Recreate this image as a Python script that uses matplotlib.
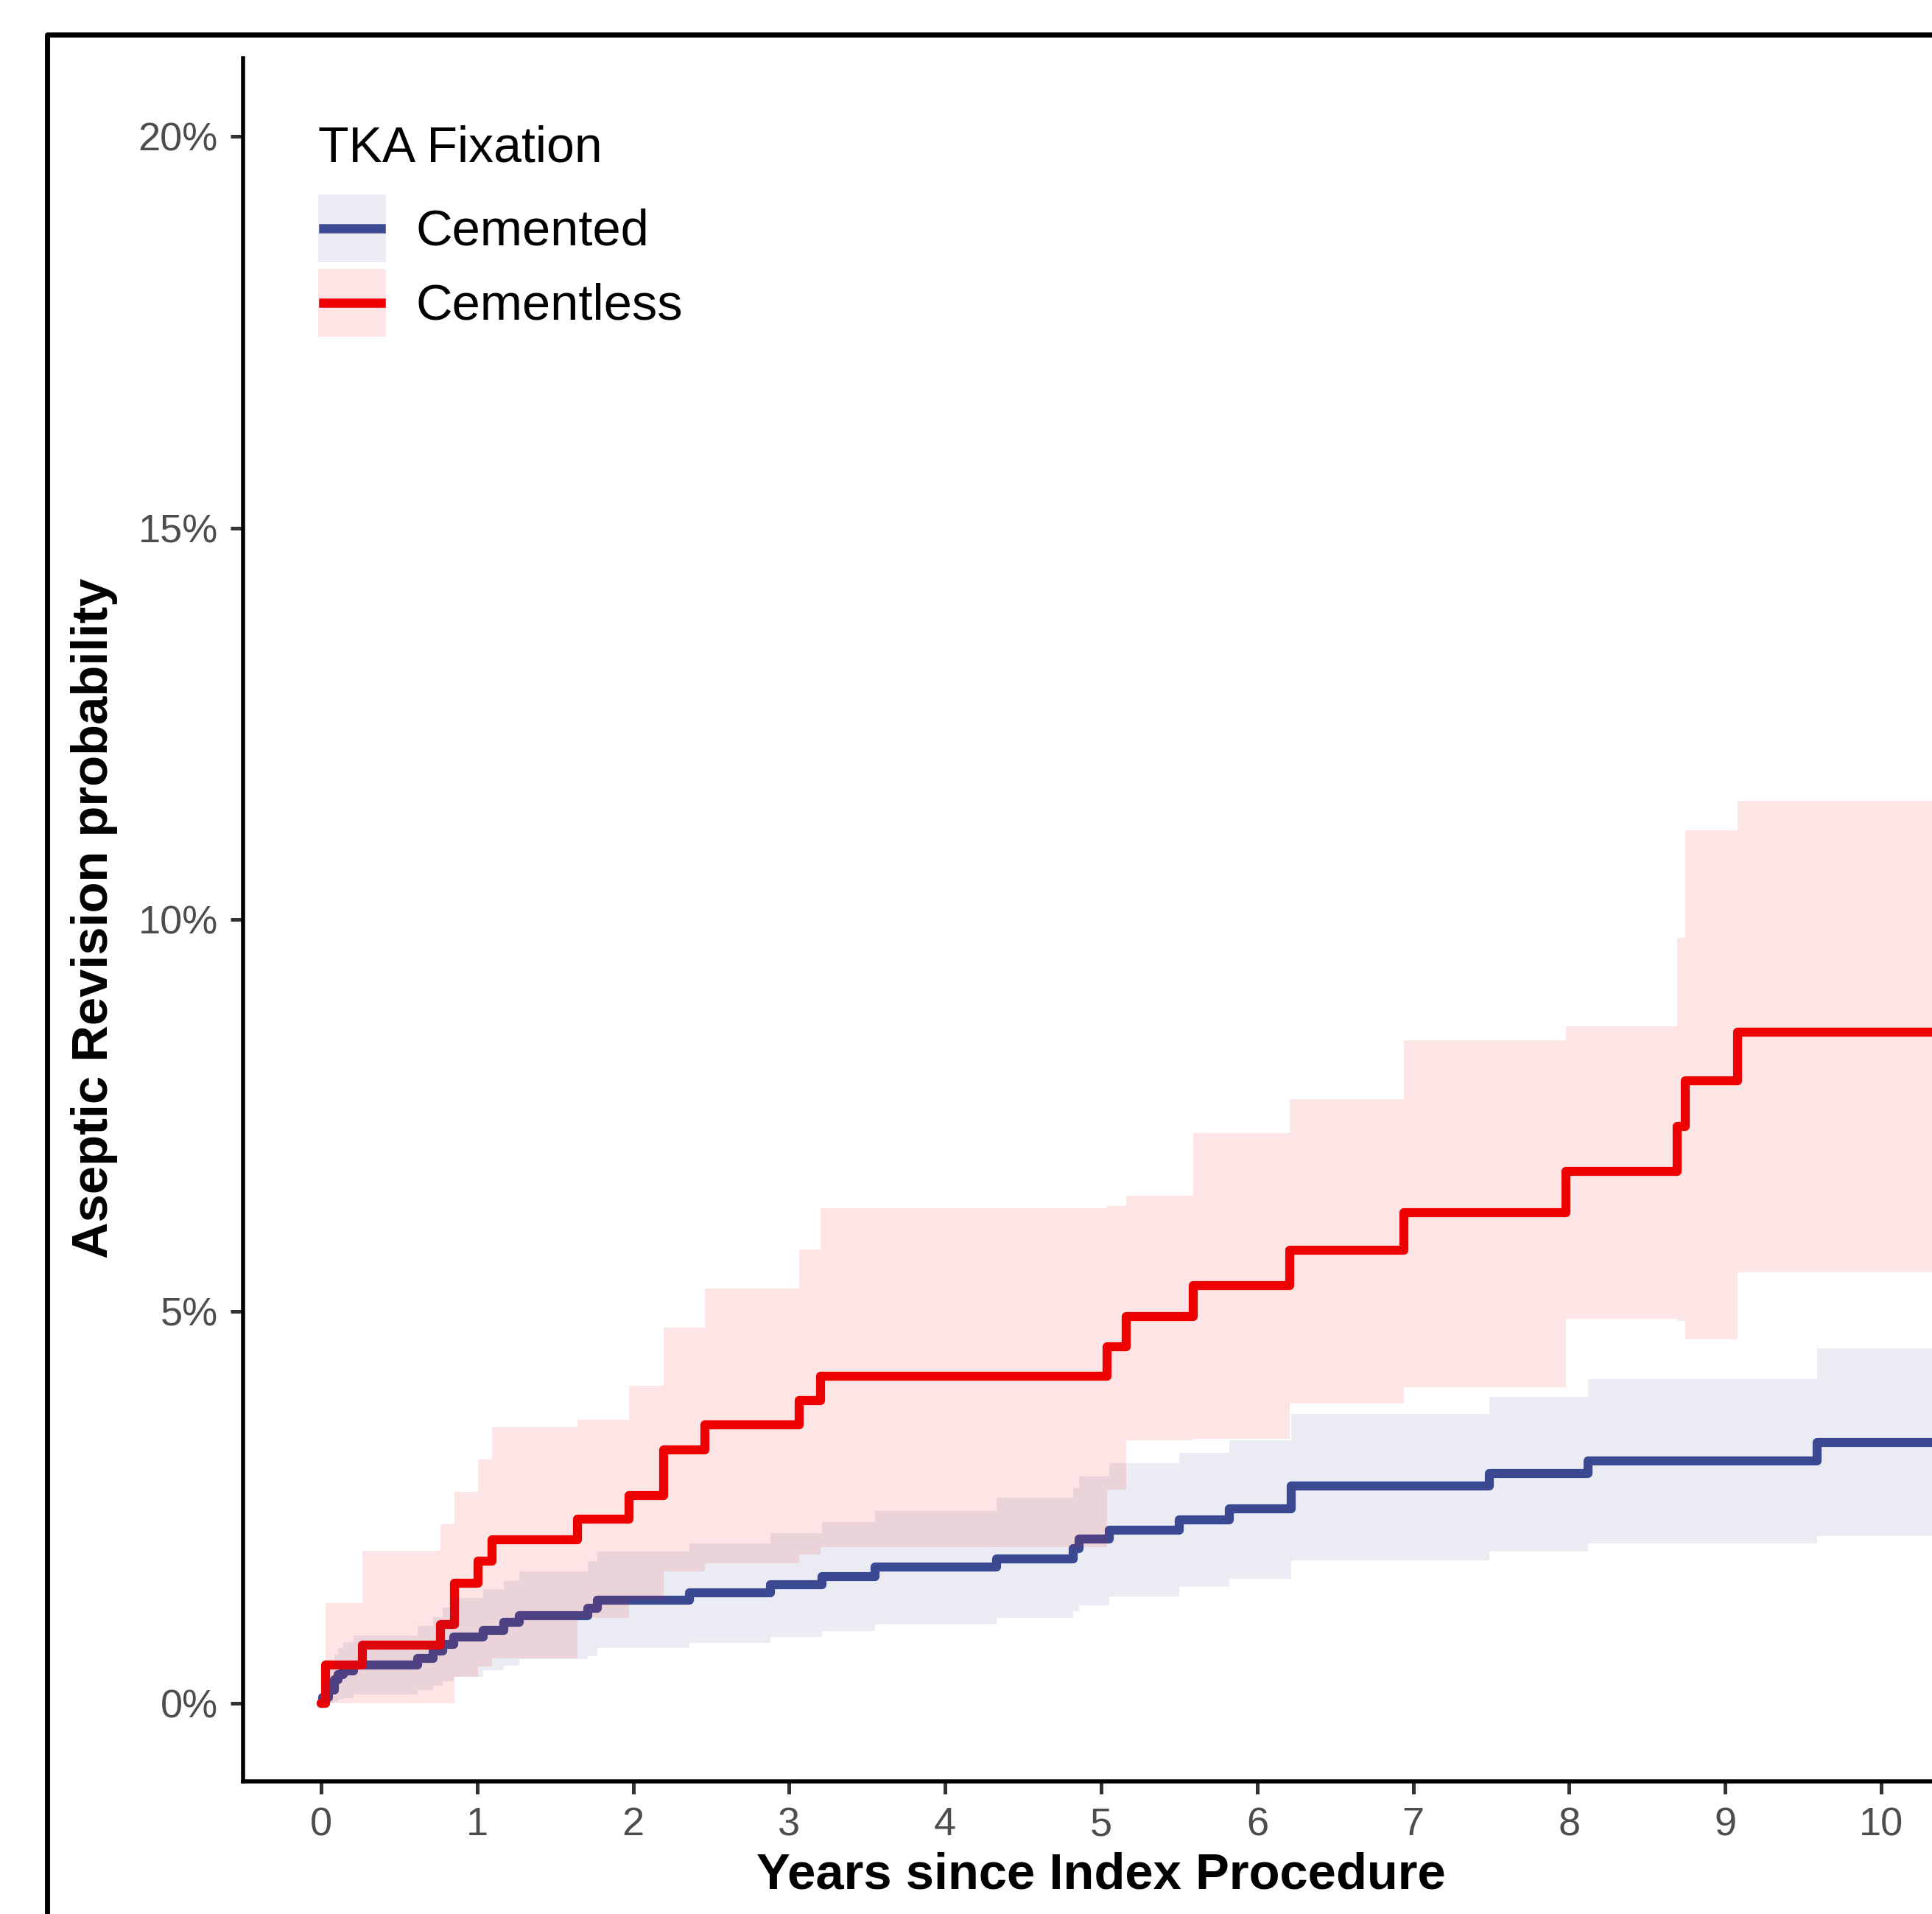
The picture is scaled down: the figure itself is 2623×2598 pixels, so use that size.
import matplotlib
matplotlib.use("Agg")
import matplotlib.pyplot as plt
from matplotlib.patches import Patch, Rectangle
from matplotlib.lines import Line2D
from matplotlib.legend_handler import HandlerLine2D
import numpy as np

plt.rcParams['font.family'] = ['Liberation Sans', 'DejaVu Sans']

# ---------------- data (cumulative incidence, %) ----------------
groups = ["Cemented", "Cementless"]
group_colors = ["#3B4992", "#EE0000"]
follow_up_end = 10.6

cemented_time = [0.0, 0.01, 0.05, 0.085, 0.11, 0.14, 0.21, 0.62, 0.72, 0.78, 0.85,
                 1.04, 1.17, 1.27, 1.71, 1.77, 2.36, 2.88, 3.21, 3.55, 4.33, 4.82,
                 4.86, 5.05, 5.50, 5.82, 6.22, 7.49, 8.12, 9.59]
cemented_est = [0.0, 0.07, 0.17, 0.30, 0.36, 0.41, 0.49, 0.57, 0.66, 0.75, 0.84,
                0.93, 1.03, 1.12, 1.21, 1.31, 1.41, 1.51, 1.61, 1.74, 1.84, 1.97,
                2.09, 2.21, 2.34, 2.48, 2.77, 2.93, 3.09, 3.33]
cemented_upper = [0.0, 0.25, 0.45, 0.62, 0.70, 0.78, 0.86, 0.98, 1.10, 1.22, 1.34,
                  1.45, 1.56, 1.68, 1.81, 1.93, 2.04, 2.17, 2.31, 2.45, 2.62, 2.74,
                  2.89, 3.06, 3.19, 3.35, 3.69, 3.91, 4.13, 4.53]
cemented_lower = [0.0, 0.0, 0.0, 0.02, 0.04, 0.06, 0.11, 0.17, 0.22, 0.28, 0.34,
                  0.42, 0.48, 0.56, 0.60, 0.70, 0.77, 0.84, 0.92, 1.00, 1.09, 1.17,
                  1.25, 1.36, 1.48, 1.59, 1.82, 1.93, 2.04, 2.13]

cementless_time = [0.0, 0.03, 0.266, 0.765, 0.854, 1.008, 1.098, 1.644, 1.973, 2.198,
                   2.462, 3.065, 3.20, 5.04, 5.16, 5.59, 6.21, 6.94, 7.98, 8.69,
                   8.745, 9.08]
cementless_est = [0.0, 0.49, 0.74, 1.00, 1.53, 1.81, 2.08, 2.35, 2.65, 3.23, 3.55,
                  3.86, 4.17, 4.55, 4.93, 5.33, 5.78, 6.26, 6.79, 7.36, 7.94, 8.56]
cementless_upper = [0.0, 1.28, 1.94, 2.28, 2.70, 3.11, 3.52, 3.62, 4.05, 4.79, 5.29,
                    5.79, 6.32, 6.34, 6.48, 7.28, 7.71, 8.46, 8.64, 9.77, 11.14, 11.52]
cementless_lower = [0.0, 0.0, 0.0, 0.0, 0.34, 0.47, 0.57, 1.09, 1.32, 1.68, 1.78,
                    1.90, 1.99, 2.72, 3.35, 3.37, 3.82, 4.03, 4.91, 4.88, 4.64, 5.50]

x_ticks = [0, 1, 2, 3, 4, 5, 6, 7, 8, 9, 10]
y_ticks = [0, 5, 10, 15, 20]
y_tick_labels = ["0%", "5%", "10%", "15%", "20%"]
x_title = "Years since Index Procedure"
y_title = "Aseptic Revision probability"
legend_title = "TKA Fixation"

series = [
    (cemented_time, cemented_est, cemented_lower, cemented_upper),
    (cementless_time, cementless_est, cementless_lower, cementless_upper),
]

# ---------------- figure ----------------
W, H = 2623, 2598
DPI = 100
fig = plt.figure(figsize=(W / DPI, H / DPI), dpi=DPI)
fig.patch.set_facecolor("white")

def fx(px):
    return px / W

def fy(py):
    return 1 - py / H

ax_left, ax_right, ax_top, ax_bottom = 330, 2660, 78.6, 2418
ax = fig.add_axes([fx(ax_left), fy(ax_bottom), fx(ax_right - ax_left), (ax_bottom - ax_top) / H])
ax.set_facecolor("none")

def extend(t, v):
    return np.array(list(t) + [follow_up_end]), np.array(list(v) + [v[-1]])

# lines first, ribbons on top (as survminer does)
for (t, est, lo, hi), col in zip(series, group_colors):
    tt, ee = extend(t, est)
    ax.step(tt, ee, where="post", color=col, lw=8.8, zorder=2,
            solid_joinstyle="round", solid_capstyle="round")
for (t, est, lo, hi), col in zip(series, group_colors):
    tt, ll = extend(t, lo)
    _, hh = extend(t, hi)
    ax.fill_between(tt, ll, hh, step="post", color=col, alpha=0.1, lw=0, zorder=3)

ax.set_xlim(-0.5, 10.5)
ax.set_ylim(-1, 21)
ax.set_xticks(x_ticks)
ax.set_xticklabels([str(v) for v in x_ticks])
ax.set_yticks(y_ticks)
ax.set_yticklabels(y_tick_labels)
ax.tick_params(axis="both", length=12.5, width=3.6, color="#333333",
               labelsize=39, labelcolor="#4D4D4D", pad=12)
for s in ["top", "right"]:
    ax.spines[s].set_visible(False)
for s in ["left", "bottom"]:
    ax.spines[s].set_linewidth(4.0)
    ax.spines[s].set_color("black")
    ax.spines[s].set_capstyle("projecting")

# axis titles
fig.text(fx(1495), fy(2545), x_title, fontsize=49.5, fontweight="bold",
         ha="center", va="center", color="black")
fig.text(fx(128), fy(1246), y_title, fontsize=49.5, fontweight="bold",
         rotation=90, ha="center", va="center", color="black")


class CenteredLineHandler(HandlerLine2D):
    """Line drawn through the vertical centre of the key box."""
    def create_artists(self, legend, orig_handle, xdescent, ydescent, width,
                       height, fontsize, trans):
        arts = super().create_artists(legend, orig_handle, xdescent, ydescent,
                                      width, height, fontsize, trans)
        yc = height / 2.0 - ydescent
        for a in arts:
            if isinstance(a, Line2D):
                a.set_ydata(np.full(len(a.get_xdata()), yc))
        return arts


# legend
handles = []
for col in group_colors:
    handles.append((Patch(facecolor=col, alpha=0.1, edgecolor="none"),
                    Line2D([], [], color=col, lw=9.0)))
fs = 49.5
fs_px = fs * DPI / 72
key_px = 92.0
# matplotlib's handle box height = fs*hh - 0.35*fs*(hh-0.7); solve for key_px
hh = (key_px - 0.245 * fs_px) / (0.65 * fs_px)
leg = fig.legend(handles, groups, loc="upper left",
                 bbox_to_anchor=(fx(432), fy(264)), bbox_transform=fig.transFigure,
                 frameon=False, fontsize=fs, borderpad=0, borderaxespad=0,
                 handlelength=key_px / fs_px, handleheight=hh,
                 labelspacing=9 / fs_px, handletextpad=41 / fs_px,
                 handler_map={Line2D: CenteredLineHandler(marker_pad=0.1, numpoints=2)})
for txt in leg.get_texts():
    txt.set_color("black")
fig.text(fx(432), fy(220), legend_title, fontsize=49, ha="left", va="baseline",
         color="black")

# outer frame (extends beyond the visible area)
frame = Rectangle((fx(64), -0.2), 2.0, fy(47) + 0.2, transform=fig.transFigure,
                  fill=False, edgecolor="black", lw=5.0, joinstyle="round",
                  clip_on=False)
fig.patches.append(frame)

fig.savefig("out.png", dpi=DPI, facecolor="white")
